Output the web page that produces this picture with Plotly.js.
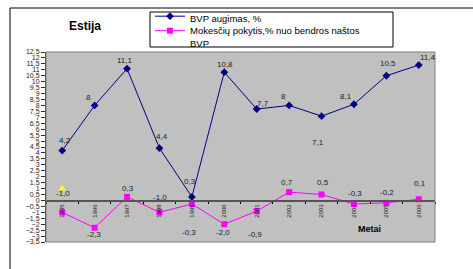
<!DOCTYPE html>
<html>
<head>
<meta charset="utf-8">
<script src="https://cdn.plot.ly/plotly-3.0.1.min.js"></script>
<style>
html,body{margin:0;padding:0;background:#fff;}
#chart{width:473px;height:269px;}
</style>
</head>
<body>
<div id="chart"></div>
<script>
// ---- data ----
var years = ['1995','1996','1997','1998','1999','2000','2001','2002','2003','2004','2005','2006'];
var bvpAugimas = [4.2, 8, 11.1, 4.4, 0.3, 10.8, 7.7, 8, 7.1, 8.1, 10.5, 11.4];
var mokesciuPokytis = [-1.0, -2.3, 0.3, -1.0, -0.3, -2.0, -0.9, 0.7, 0.5, -0.3, -0.2, 0.1];
var extraCategory = ['1995'];
var extraValue = [1.0];
var seriesNames = ['BVP augimas, %', 'Mokesčių pokytis,% nuo bendros naštos<br>BVP'];
var chartTitle = 'Estija';
var xTitle = 'Metai';

// ---- label offsets (px) ----
var bvpShift = [[3,10],[-6,8],[-2,8],[3,12],[-2,15],[1,8],[6,6],[-6,9],[-4,-26],[-8,8],[2,12],[9,8]];
var mokShift = [[1,19],[-1,-7],[1,8],[1,15],[-3,-28],[-1,-8],[-2,-23],[-2,10],[1,12],[1,11],[1,10],[1,16]];

var FONT = 'Liberation Sans, Arial, sans-serif';
var W = 473, H = 269, L = 46, R = 38, T = 52, B = 27;
var pw = W - L - R, ph = H - T - B;
var yMin = -3.5, yMax = 12.5;

function fmt(v, fixed) {
  var s = fixed ? v.toFixed(1) : String(v);
  return s.replace('.', ',');
}
function py(pixY) { return (H - B - pixY) / ph; }
function px(pixX) { return (pixX - L) / pw; }

var traces = [
  {x: years, y: bvpAugimas, type: 'scatter', mode: 'lines+markers', name: seriesNames[0], legend: 'legend',
   line: {color: '#000080', width: 1}, marker: {symbol: 'diamond', size: 6, color: '#000080'}},
  {x: years, y: mokesciuPokytis, type: 'scatter', mode: 'lines+markers', name: seriesNames[1], legend: 'legend2',
   line: {color: '#FF00FF', width: 1}, marker: {symbol: 'square', size: 6, color: '#FF00FF'}},
  {x: extraCategory, y: extraValue, type: 'scatter', mode: 'markers', showlegend: false,
   marker: {symbol: 'triangle-up', size: 7, color: '#FFFF00'}}
];

var annotations = [];
years.forEach(function (yr, i) {
  annotations.push({x: i, y: bvpAugimas[i], text: fmt(bvpAugimas[i], false), showarrow: false,
    xshift: bvpShift[i][0], yshift: bvpShift[i][1], font: {family: FONT, size: 8, color: '#222'}});
  annotations.push({x: i, y: mokesciuPokytis[i], text: fmt(mokesciuPokytis[i], true), showarrow: false,
    xshift: mokShift[i][0], yshift: mokShift[i][1], font: {family: FONT, size: 8, color: '#222'}});
});
annotations.push({xref: 'paper', yref: 'paper', x: px(383), y: py(236), text: '<b>' + xTitle + '</b>',
  showarrow: false, font: {family: FONT, size: 9, color: '#000'}});

var legendCommon = {xanchor: 'left', xref: 'container', yref: 'container', bgcolor: 'rgba(0,0,0,0)', borderwidth: 0,
  font: {family: FONT, size: 9.5, color: '#000'}, valign: 'top', itemwidth: 30};

var layout = {
  width: W, height: H,
  margin: {l: L, r: R, t: T, b: B, pad: 0, autoexpand: false},
  paper_bgcolor: '#ffffff', plot_bgcolor: '#C0C0C0',
  separators: ',.',
  font: {family: FONT, color: '#222'},
  title: {text: '<b>' + chartTitle + '</b>', x: 85 / W, xanchor: 'center', xref: 'container',
    y: 1 - 26 / H, yanchor: 'middle', yref: 'container', font: {family: FONT, size: 12, color: '#000'}},
  xaxis: {type: 'category', range: [-0.5, 11.5], anchor: 'free', position: (0 - yMin) / (yMax - yMin),
    showgrid: false, zeroline: false, showline: true, linecolor: '#555', linewidth: 1.5,
    ticks: 'outside', ticklen: 2, tickcolor: '#000', tickson: 'boundaries',
    tickangle: -90, tickfont: {family: FONT, size: 6, color: '#222'}, fixedrange: true},
  yaxis: {range: [yMin, yMax], dtick: 0.5, tick0: 0, showgrid: false, zeroline: false,
    showline: true, linecolor: '#333', linewidth: 1, ticks: 'outside', ticklen: 4, tickcolor: '#333',
    tickfont: {family: FONT, size: 7, color: '#222'}, fixedrange: true},
  legend: Object.assign({}, legendCommon, {x: 150 / W, y: 1 - 18 / H, yanchor: 'middle'}),
  legend2: Object.assign({}, legendCommon, {x: 150 / W, y: 1 - 18 / H, yanchor: 'top'}),
  showlegend: true,
  shapes: [
    {type: 'rect', xref: 'paper', yref: 'paper', x0: 0, x1: 1, y0: 0, y1: 1,
     line: {color: '#808080', width: 1}},
    {type: 'rect', xref: 'paper', yref: 'paper', x0: px(150), x1: px(393),
     y0: py(47), y1: py(12), line: {color: '#000', width: 1}},
    {type: 'rect', xref: 'paper', yref: 'paper', x0: px(10), x1: 2, y0: -1, y1: py(8),
     line: {color: '#000', width: 1}}
  ],
  annotations: annotations
};

Plotly.newPlot('chart', traces, layout, {displayModeBar: false, staticPlot: true});
</script>
</body>
</html>
